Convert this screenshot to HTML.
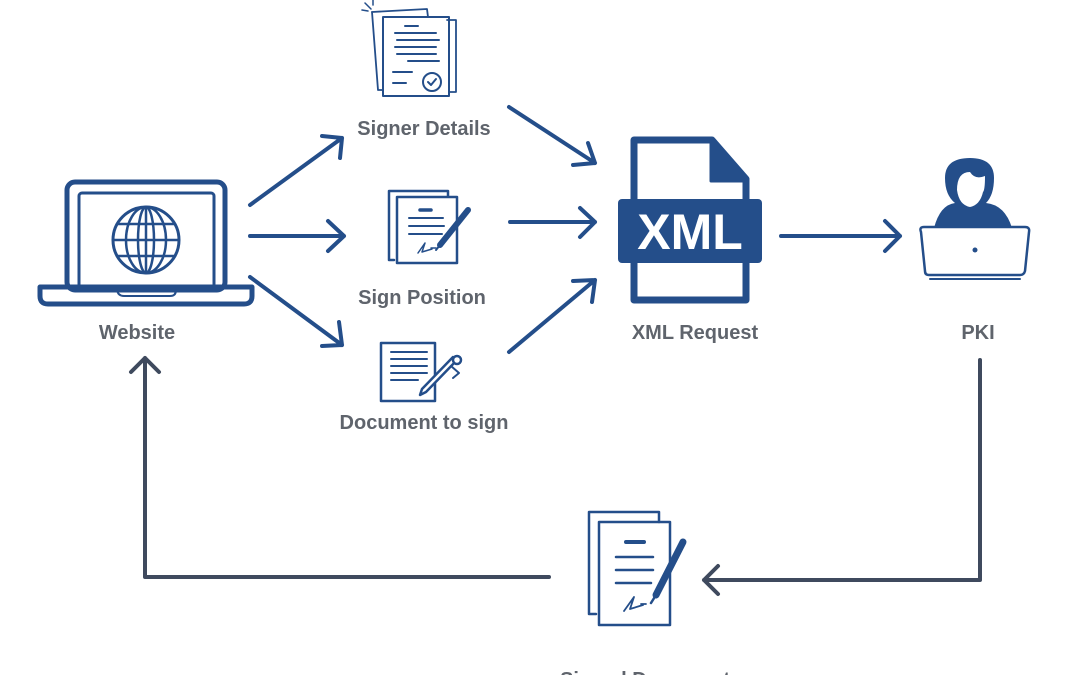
<!DOCTYPE html>
<html><head><meta charset="utf-8"><style>
html,body{margin:0;padding:0;background:#fff;width:1080px;height:675px;overflow:hidden}
svg{display:block}
.lbl{font-family:"Liberation Sans",sans-serif;font-weight:bold;font-size:20px;fill:#5f646c;text-anchor:middle}
</style></head><body>
<svg width="1080" height="675" viewBox="0 0 1080 675" xmlns="http://www.w3.org/2000/svg">
<g fill="none" stroke="#244e8a" stroke-linecap="round" stroke-linejoin="round">
 <rect x="67" y="182" width="158" height="108" rx="8" stroke-width="5"/>
 <rect x="79" y="193" width="135" height="95" rx="3" stroke-width="3"/>
 <path d="M40 287 H252 V296 Q252 304 244 304 H48 Q40 304 40 296 Z" stroke-width="5"/>
 <path d="M117 290 Q118 296 124 296 H170 Q176 296 176 290" stroke-width="2"/>
 <circle cx="146" cy="240" r="33" stroke-width="3"/>
 <ellipse cx="146" cy="240" rx="20" ry="33" stroke-width="2.5"/>
 <ellipse cx="146" cy="240" rx="8" ry="33" stroke-width="2.5"/>
 <line x1="146" y1="207" x2="146" y2="273" stroke-width="2.5"/>
 <line x1="113" y1="240" x2="179" y2="240" stroke-width="2.5"/>
 <line x1="117" y1="224" x2="175" y2="224" stroke-width="2.5"/>
 <line x1="117" y1="256" x2="175" y2="256" stroke-width="2.5"/>
 <g stroke-width="4">
  <path d="M250 205 L342 138 M322 136 L342 138 L340 158"/>
  <path d="M250 236 H344 M328 221 L344 236 L328 251"/>
  <path d="M250 277 L342 345 M322 346 L342 345 L339 322"/>
  <path d="M509 107 L595 163 M588 143 L595 163 L573 165"/>
  <path d="M510 222 H595 M580 208 L595 222 L580 237"/>
  <path d="M509 352 L595 280 M573 281 L595 280 L592 302"/>
  <path d="M781 236 H900 M885 221 L900 236 L885 251"/>
 </g>
 <path d="M365 3 L371 9 M362 10 L368 11 M373 0 L373 5" stroke-width="1.5"/>
 <path d="M372 12 L427 9 L428 17" stroke-width="1.8"/>
 <path d="M372 12 L378 90 L383 90" stroke-width="1.8"/>
 <path d="M447 20 H456 V92 H449" stroke-width="1.8"/>
 <rect x="383" y="17" width="66" height="79" stroke-width="2"/>
 <path d="M405 26 H418 M395 33 H436 M397 40 H439 M395 47 H436 M397 54 H436 M408 61 H439 M393 72 H412 M393 83 H406" stroke-width="2"/>
 <circle cx="432" cy="82" r="9" stroke-width="2"/>
 <path d="M428 82 L431 85 L436 79" stroke-width="2"/>
 <path d="M394 260 H389 V191 H448 V196" stroke-width="2.5"/>
 <rect x="397" y="197" width="60" height="66" stroke-width="2.5"/>
 <path d="M420 210 H431" stroke-width="3.5"/>
 <path d="M409 218 H443 M409 226 H444 M409 234 H442" stroke-width="2"/>
 <path d="M418 253 L425 243 L422 252 L432 249 M431 248 H436" stroke-width="1.5"/>
 <path d="M468 210 L440 245" stroke-width="6"/>
 <path d="M440 245 L436 250" stroke-width="2"/>
 <rect x="381" y="343" width="54" height="58" stroke-width="2.5"/>
 <path d="M391 352 H427 M391 359 H427 M391 366 H427 M391 373 H427 M391 380 H418" stroke-width="2"/>
 <path d="M457 360 L426 392 L420 395 L422 389 L453 357 Z" stroke-width="2.5" fill="#fff"/>
 <circle cx="457" cy="360" r="4" stroke-width="2.5" fill="#fff"/>
 <path d="M451 366 L459 373 L453 378" stroke-width="2"/>
 <path d="M634 140 H712 L746 179 V300 H634 Z" stroke-width="7" />
 <path d="M711 140 V181 H746 Z" fill="#244e8a" stroke-width="3"/>
 <rect x="618" y="199" width="144" height="64" rx="4" fill="#244e8a" stroke-width="0"/>
 <path d="M934 228 Q940 205 955 203 Q945 195 945 178 Q945 158 970 158 Q994 158 994 178 Q994 195 986 203 Q1005 205 1012 228 Z" fill="#244e8a" stroke-width="0"/>
 <path d="M957 190 Q957 172 970 172 Q975 180 985 176 Q985 190 983 192 Q980 205 970 207 Q959 205 957 190 Z" fill="#fff" stroke-width="0"/>
 <path d="M921 232 Q919 227 924 227 H1025 Q1030 227 1029 232 L1025 271 Q1024 275 1020 275 H929 Q925 275 925 271 Z" fill="#fff" stroke-width="2.5"/>
 <circle cx="975" cy="250" r="2.5" fill="#244e8a" stroke-width="0"/>
 <path d="M930 279 H1020" stroke-width="2"/>
 <path d="M596 614 H589 V512 H659 V522" stroke-width="2.5"/>
 <rect x="599" y="522" width="71" height="103" stroke-width="2.5"/>
 <path d="M626 542 H644" stroke-width="4"/>
 <path d="M616 557 H653 M616 570 H653 M616 583 H651" stroke-width="2.5"/>
 <path d="M624 611 L634 597 L630 609 L643 605 M641 604 H646" stroke-width="1.8"/>
 <path d="M683 542 L656 595" stroke-width="7"/>
 <path d="M656 595 L651 603" stroke-width="2.5"/>
</g>
<text x="690" y="249" font-family="Liberation Sans,sans-serif" font-weight="bold" font-size="50" fill="#fff" text-anchor="middle">XML</text>
<g fill="none" stroke="#3f4a5e" stroke-width="4" stroke-linecap="round" stroke-linejoin="round">
 <path d="M980 360 V580 H704 M718 566 L704 580 L718 594"/>
 <path d="M549 577 H145 V358 M131 372 L145 358 L159 372"/>
</g>
<text class="lbl" x="137" y="339">Website</text>
<text class="lbl" x="424" y="135">Signer Details</text>
<text class="lbl" x="422" y="304">Sign Position</text>
<text class="lbl" x="424" y="429">Document to sign</text>
<text class="lbl" x="695" y="339">XML Request</text>
<text class="lbl" x="978" y="339">PKI</text>
<text class="lbl" x="645" y="686">Signed Document</text>
</svg>
</body></html>
